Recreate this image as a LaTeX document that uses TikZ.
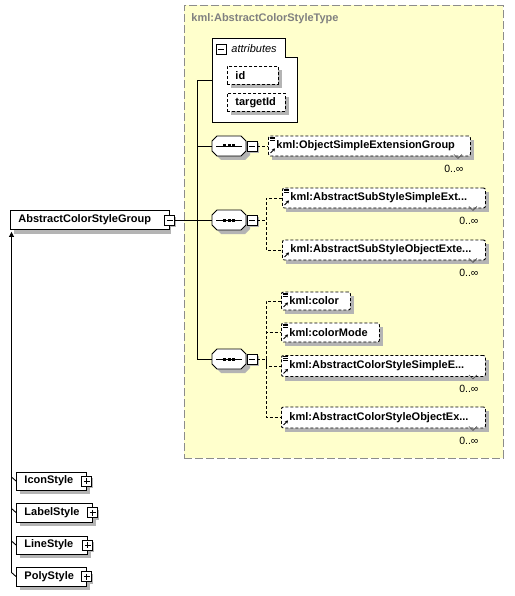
\documentclass[tikz,border=0pt]{standalone}
\usepackage{fontspec}
\setmainfont{Liberation Sans}
\usetikzlibrary{arrows.meta}
\definecolor{ybg}{HTML}{FFFFCC}
\definecolor{shadowgray}{HTML}{B4B4B4}
\definecolor{framegray}{HTML}{8C8C8C}
\definecolor{titlegray}{HTML}{808080}
\hyphenpenalty=10000
\exhyphenpenalty=10000
\newcommand\seqshape[1]{%
  \begin{scope}[shift={(#1.center)}]
    \path[fill=shadowgray] (-8,-6) -- (16,-6) -- (21,-1) -- (21,9) -- (16,14) -- (-8,14) -- (-13,9) -- (-13,-1) -- cycle;
    \draw[line width=0.9pt, fill=white] (-12,-10) -- (12,-10) -- (17,-5) -- (17,5) -- (12,10) -- (-12,10) -- (-17,5) -- (-17,-5) -- cycle;
    \draw[line width=0.9pt] (-13,0) -- (13,0);
    \foreach \dx in {-4.5,0,4.5} \fill (\dx-1.5,-1.5) rectangle (\dx+1.5,1.5);
  \end{scope}}
\newcommand\simplelines[1]{%
  \foreach \d in {1.5,3.2,4.9} \draw[line width=0.7pt] ([shift={(2,\d)}]#1.north west) -- ([shift={(7,\d)}]#1.north west);}
\newcommand\refarrow[1]{%
  \draw[-{Stealth[length=3pt,width=3.5pt]}, line width=0.9pt] ([shift={(2.5,-3.5)}]#1.south west) -- ([shift={(7,-8)}]#1.south west);}
\newcommand\multinotch[1]{%
  \draw[line width=0.6pt, black!70] ([shift={(-17,-2)}]#1.south east) -- ([shift={(-13,2)}]#1.south east) -- ([shift={(-9,-2)}]#1.south east);}
\begin{document}
\begin{tikzpicture}[x=1pt,y=-1pt,line width=0.9pt]
\tikzset{
  bfont/.style={font=\fontsize{11}{13}\selectfont\bfseries},
  shadowbox/.style={fill=shadowgray, draw=none},
  elem/.style={draw, dash pattern=on 3pt off 2pt, rounded corners=2pt, fill=white, anchor=west, inner xsep=8pt, inner ysep=0pt, text width=#1, align=left, minimum height=20pt, bfont},
  attrbox/.style={draw, dash pattern=on 3pt off 2pt, fill=white, anchor=north west, inner xsep=8pt, inner ysep=0pt, text width=#1, align=left, minimum height=18pt, bfont},
  solidbox/.style={draw, fill=white, anchor=west, inner xsep=8pt, inner ysep=0pt, text width=#1, align=left, minimum height=18pt, bfont},
  iconbox/.style={draw, fill=white, minimum size=10pt, inner sep=0pt, line width=0.9pt},
  minusbox/.style={iconbox, path picture={\draw[line width=0.9pt] ([xshift=2pt]path picture bounding box.west) -- ([xshift=-2pt]path picture bounding box.east);}},
  plusbox/.style={iconbox, path picture={\draw[line width=0.9pt] ([xshift=2pt]path picture bounding box.west) -- ([xshift=-2pt]path picture bounding box.east); \draw[line width=0.9pt] ([yshift=-2pt]path picture bounding box.north) -- ([yshift=2pt]path picture bounding box.south);}},
  seqnode/.style={minimum width=34pt, minimum height=20pt, inner sep=0pt},
  conn/.style={line width=0.9pt},
  dconn/.style={line width=0.9pt, dash pattern=on 3pt off 2pt},
  card/.style={font=\fontsize{10.5}{12}\selectfont, anchor=north east, inner sep=0pt},
}
\useasboundingbox (0,0) rectangle (514,596);

% container type
\node[draw=framegray, dash pattern=on 8pt off 3pt, fill=ybg, minimum width=319pt, minimum height=453pt, anchor=north west, inner sep=0pt] (ctype) at (184,5) {};
\node[bfont, text=titlegray, anchor=west, inner sep=0pt] (ttl) at (191,19) {kml:AbstractColorStyleType};

% attributes
\draw[conn, fill=white] (212,38) -- (285,38) -- (285,57) -- (297,57) -- (297,122) -- (212,122) -- cycle;
\node[minusbox] (am) at (221,49) {};
\node[font=\fontsize{11}{13}\selectfont\itshape, anchor=west, inner sep=0pt] (attrlbl) at (231,49) {attributes};
\path[shadowbox] (231,70) -- (282,70) -- (282,88) -- (231,88) -- cycle;
\path[shadowbox] (231,97) -- (289,97) -- (289,115) -- (231,115) -- cycle;
\node[attrbox=35pt] (aid) at (227,66) {id};
\node[attrbox=42pt] (atid) at (227,93) {targetId};
\coordinate (attrL) at (212,80);

% spine
\coordinate (sp0) at (197,80);
\coordinate (sp1) at (197,146);
\coordinate (sp2) at (197,220);
\coordinate (sp3) at (197,359);
\draw[conn] (attrL) -- (sp0) -- (sp3);

% sequences
\path[shadowbox] (249,143) -- (259,143) -- (259,153) -- (249,153) -- cycle;
\path[shadowbox] (249,217) -- (259,217) -- (259,227) -- (249,227) -- cycle;
\path[shadowbox] (249,356) -- (259,356) -- (259,366) -- (249,366) -- cycle;
\node[seqnode] (s1) at (229,146) {}; \seqshape{s1}
\node[minusbox] (m1) at (252,146) {};
\node[seqnode] (s2) at (229,220) {}; \seqshape{s2}
\node[minusbox] (m2) at (252,220) {};
\node[seqnode] (s3) at (229,359) {}; \seqshape{s3}
\node[minusbox] (m3) at (252,359) {};
\draw[conn] (sp1) -- (s1.west);
\draw[conn] (sp2) -- (s2.west);
\draw[conn] (sp3) -- (s3.west);

% main group
\path[shadowbox] (14,214.5) -- (171,214.5) -- (171,233.5) -- (14,233.5) -- cycle;
\path[shadowbox] (166,217) -- (176,217) -- (176,227) -- (166,227) -- cycle;
\node[solidbox=143pt, minimum height=19pt] (grp) at (10,220) {AbstractColorStyleGroup};
\node[minusbox] (gm) at (grp.east) {};
\draw[conn] (gm.east) -- (sp2);

% elements
\path[shadowbox] (272,140) -- (474,140) -- (474,160) -- (272,160) -- cycle;
\path[shadowbox] (286,192) -- (489,192) -- (489,212) -- (286,212) -- cycle;
\path[shadowbox] (286,244) -- (489,244) -- (489,264) -- (286,264) -- cycle;
\path[shadowbox] (285,296) -- (354,296) -- (354,314) -- (285,314) -- cycle;
\path[shadowbox] (285,327) -- (383,327) -- (383,346) -- (285,346) -- cycle;
\path[shadowbox] (285,359.5) -- (489,359.5) -- (489,380.5) -- (285,380.5) -- cycle;
\path[shadowbox] (285,411) -- (489,411) -- (489,432) -- (285,432) -- cycle;
\node[elem=186pt] (e1) at (268,146) {kml:ObjectSimpleExtensionGroup};
\node[elem=187pt] (e2a) at (282,198) {kml:AbstractSubStyleSimpleExt...};
\node[elem=187pt] (e2b) at (282,250) {kml:AbstractSubStyleObjectExte...};
\node[elem=53pt, minimum height=18pt] (e3a) at (281,301) {kml:color};
\node[elem=82pt, minimum height=19pt] (e3b) at (281,332.5) {kml:colorMode};
\node[elem=188pt, minimum height=21pt] (e3c) at (281,366) {kml:AbstractColorStyleSimpleE...};
\node[elem=188pt, minimum height=21pt] (e3d) at (281,417.5) {kml:AbstractColorStyleObjectEx...};

\simplelines{e1} \simplelines{e2a} \simplelines{e3a} \simplelines{e3b} \simplelines{e3c}
\refarrow{e1} \refarrow{e2a} \refarrow{e2b} \refarrow{e3a} \refarrow{e3b} \refarrow{e3c} \refarrow{e3d}
\multinotch{e1} \multinotch{e2a} \multinotch{e2b} \multinotch{e3c} \multinotch{e3d}

\node[card] (c1) at ([shift={(-7,8)}]e1.south east) {0..∞};
\node[card] (c2a) at ([shift={(-7,8)}]e2a.south east) {0..∞};
\node[card] (c2b) at ([shift={(-7,8)}]e2b.south east) {0..∞};
\node[card] (c3c) at ([shift={(-7,8)}]e3c.south east) {0..∞};
\node[card] (c3d) at ([shift={(-7,8)}]e3d.south east) {0..∞};

% element connectors
\draw[dconn] (m1.east) -- (e1.west);
\coordinate (b2) at (266,220);
\draw[dconn] (m2.east) -- (b2);
\draw[dconn] (e2a.west) -| (b2) |- (e2b.west);
\coordinate (b3) at (266,359);
\draw[dconn] (m3.east) -- (b3);
\draw[dconn] (e3a.west) -| (b3) |- (e3d.west);
\draw[dconn] (b3) |- (e3b.west);
\draw[dconn] (b3) |- (e3c.west);

% substitution group members
\path[shadowbox] (20,476) -- (90,476) -- (90,494) -- (20,494) -- cycle;
\path[shadowbox] (20,507) -- (96,507) -- (96,526) -- (20,526) -- cycle;
\path[shadowbox] (20,540) -- (91,540) -- (91,558) -- (20,558) -- cycle;
\path[shadowbox] (20,571) -- (90,571) -- (90,590) -- (20,590) -- cycle;
\path[shadowbox] (83,478) -- (93,478) -- (93,488) -- (83,488) -- cycle;
\path[shadowbox] (89,509.5) -- (99,509.5) -- (99,519.5) -- (89,519.5) -- cycle;
\path[shadowbox] (84,542) -- (94,542) -- (94,552) -- (84,552) -- cycle;
\path[shadowbox] (83,573.5) -- (93,573.5) -- (93,583.5) -- (83,583.5) -- cycle;
\node[solidbox=54pt] (ic) at (16,481) {IconStyle};
\node[plusbox] (icp) at (ic.east) {};
\node[solidbox=60pt, minimum height=19pt] (lb) at (16,512.5) {LabelStyle};
\node[plusbox] (lbp) at (lb.east) {};
\node[solidbox=55pt] (ln) at (16,545) {LineStyle};
\node[plusbox] (lnp) at (ln.east) {};
\node[solidbox=54pt, minimum height=19pt] (pl) at (16,576.5) {PolyStyle};
\node[plusbox] (plp) at (pl.east) {};

\coordinate (stemtop) at ([shift={(1.5,2)}]grp.south west);
\coordinate (k1) at (11.5,477);
\coordinate (k2) at (11.5,508.5);
\coordinate (k3) at (11.5,541);
\coordinate (k4) at (11.5,572.5);
\draw[conn, -{Triangle[length=5pt,width=5pt]}] (k4) -- (stemtop);
\draw[conn] (k1) -- (ic.west);
\draw[conn] (k2) -- (lb.west);
\draw[conn] (k3) -- (ln.west);
\draw[conn] (k4) -- (pl.west);
\end{tikzpicture}
\end{document}
